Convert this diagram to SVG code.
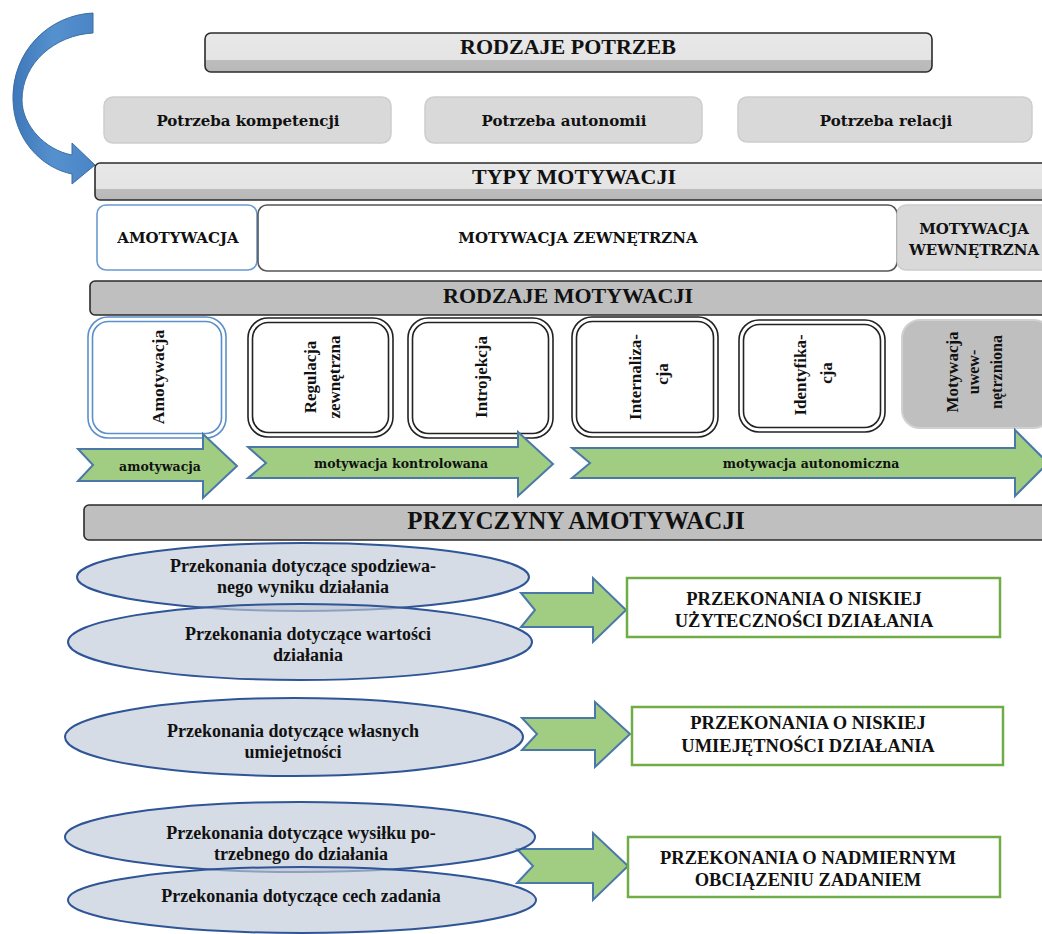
<svg xmlns="http://www.w3.org/2000/svg" width="1042" height="934" viewBox="0 0 1042 934">
<defs>
<linearGradient id="twoTone" x1="0" y1="0" x2="0" y2="1">
<stop offset="0" stop-color="#e8e8e8"/><stop offset="0.7" stop-color="#e4e4e4"/><stop offset="0.7" stop-color="#bdbdbd"/><stop offset="1" stop-color="#b8b8b8"/>
</linearGradient>
<linearGradient id="curveGrad" x1="0" y1="0" x2="1" y2="0">
<stop offset="0" stop-color="#3f78b8"/><stop offset="0.5" stop-color="#5590cf"/><stop offset="1" stop-color="#4a84c4"/>
</linearGradient>
</defs>
<style>
.bar{stroke:#2b2b2b;stroke-width:1.6}
.barTitle{font-family:"Liberation Serif","Times New Roman",serif;font-weight:bold;font-size:22px;fill:#111;text-anchor:middle}
.bigTitle{font-size:25px}
.need{fill:#d9d9d9;stroke:#cdcdcd;stroke-width:1.5}
.cam{font-family:"DejaVu Serif","Liberation Serif",serif;font-weight:bold;fill:#111;text-anchor:middle}
.tim{font-family:"Liberation Serif","Times New Roman",serif;font-weight:bold;fill:#111;text-anchor:middle}
.dbl{fill:#fff;stroke:#222;stroke-width:1.6}
.dblBlue{fill:#fff;stroke:#5b8fc7;stroke-width:1.6}
.garrow{fill:#a0cd82;stroke:#4a78a8;stroke-width:2;stroke-linejoin:miter}
.ell{fill:#c0c9d7;fill-opacity:0.65;stroke:#2f5597;stroke-width:2}
.gbox{fill:#fff;stroke:#70ad47;stroke-width:2.5}
</style>

<g id="connectors">
<path id="curved-arrow" d="M93,13 C50,15 12,50 13,100 C14,140 42,168 72,174 L72,184 L95,165 L72,143 L72,155 C45,150 22,125 22,100 C22,63 55,35 93,33 Z" fill="url(#curveGrad)" stroke="#3a6ea5" stroke-width="1"/>
<polygon points="521,593 593,593 593,578 626,610 593,642 593,627 521,627 535,610" class="garrow"/>
<polygon points="522,718 595,718 595,702 630,734 595,767 595,750 522,750 537,734" class="garrow"/>
<polygon points="517,849 593,849 593,833 628,866 593,900 593,883 517,883 533,866" class="garrow"/>
</g>

<g id="rodzaje-potrzeb">
<rect x="205" y="33" width="727" height="39" rx="6" class="bar" fill="url(#twoTone)"/>
<text x="568" y="54" class="barTitle">RODZAJE POTRZEB</text>
</g>

<g id="potrzeba-kompetencji">
<rect x="104" y="97" width="287" height="46" rx="9" class="need"/>
<text x="248" y="126" class="cam" font-size="15">Potrzeba kompetencji</text>
</g>
<g id="potrzeba-autonomii">
<rect x="425" y="97" width="277" height="46" rx="9" class="need"/>
<text x="564" y="126" class="cam" font-size="15">Potrzeba autonomii</text>
</g>
<g id="potrzeba-relacji">
<rect x="738" y="97" width="294" height="45" rx="9" class="need"/>
<text x="886" y="126" class="cam" font-size="15">Potrzeba relacji</text>
</g>

<g id="typy-motywacji">
<rect x="95" y="163" width="965" height="37" rx="5" class="bar" fill="url(#twoTone)"/>
<text x="574" y="184" class="barTitle">TYPY MOTYWACJI</text>
</g>

<g id="typ-amotywacja">
<rect x="97" y="205" width="160" height="65" rx="9" fill="#fff" stroke="#6a9bd0" stroke-width="1.6"/>
<text x="178" y="243" class="cam" font-size="15">AMOTYWACJA</text>
</g>
<g id="typ-zewnetrzna">
<rect x="258" y="205" width="639" height="66" rx="9" fill="#fff" stroke="#555" stroke-width="1.6"/>
<text x="578" y="243" class="cam" font-size="15">MOTYWACJA ZEWNĘTRZNA</text>
</g>
<g id="typ-wewnetrzna">
<rect x="897" y="205" width="160" height="65" rx="9" fill="#d9d9d9" stroke="#cccccc" stroke-width="1.5"/>
<text x="974" y="234" class="cam" font-size="15">MOTYWACJA</text>
<text x="974" y="255" class="cam" font-size="15">WEWNĘTRZNA</text>
</g>

<g id="rodzaje-motywacji">
<rect x="90" y="281" width="970" height="34" rx="5" class="bar" fill="#bfbfbf"/>
<text x="568" y="303" class="barTitle">RODZAJE MOTYWACJI</text>
</g>

<g id="box-amotywacja">
<rect x="88" y="317" width="138" height="121" rx="20" class="dblBlue"/>
<rect x="92.5" y="321.5" width="129" height="112" rx="16" class="dblBlue"/>
<text transform="translate(158,377) rotate(-90)" y="6" class="tim" font-size="17.5">Amotywacja</text>
</g>
<g id="box-regulacja">
<rect x="248" y="318" width="145" height="119" rx="20" class="dbl"/>
<rect x="252.5" y="322.5" width="136" height="110" rx="16" class="dbl"/>
<text transform="translate(310,377) rotate(-90)" y="6" class="tim" font-size="17">Regulacja</text>
<text transform="translate(334,377) rotate(-90)" y="6" class="tim" font-size="17">zewnętrzna</text>
</g>
<g id="box-introjekcja">
<rect x="408" y="318" width="145" height="120" rx="20" class="dbl"/>
<rect x="412.5" y="322.5" width="136" height="111" rx="16" class="dbl"/>
<text transform="translate(481,377) rotate(-90)" y="6" class="tim" font-size="17">Introjekcja</text>
</g>
<g id="box-internalizacja">
<rect x="572" y="317" width="146" height="120" rx="20" class="dbl"/>
<rect x="576.5" y="321.5" width="137" height="111" rx="16" class="dbl"/>
<text transform="translate(635,377) rotate(-90)" y="6" class="tim" font-size="17">Internaliza-</text>
<text transform="translate(662,374) rotate(-90)" y="6" class="tim" font-size="17">cja</text>
</g>
<g id="box-identyfikacja">
<rect x="739" y="320" width="146" height="112" rx="20" class="dbl"/>
<rect x="743.5" y="324.5" width="137" height="103" rx="16" class="dbl"/>
<text transform="translate(800,375) rotate(-90)" y="6" class="tim" font-size="17">Identyfika-</text>
<text transform="translate(826,373) rotate(-90)" y="6" class="tim" font-size="17">cja</text>
</g>
<g id="box-uwewnetrzniona">
<rect x="902" y="320" width="150" height="108" rx="18" fill="#bfbfbf" stroke="#d0d0d0" stroke-width="2"/>
<text transform="translate(952,372) rotate(-90)" y="6" class="tim" font-size="17">Motywacja</text>
<text transform="translate(973,372) rotate(-90)" y="6" class="tim" font-size="16">uwew-</text>
<text transform="translate(996,372) rotate(-90)" y="6" class="tim" font-size="16">nętrzniona</text>
</g>

<g id="arrow-amotywacja">
<polygon points="78,449 203,449 203,434 237,466 203,498 203,481 78,481 93,465" class="garrow"/>
<text x="160" y="471" class="cam" font-size="12.5">amotywacja</text>
</g>
<g id="arrow-kontrolowana">
<polygon points="248,447 518,447 518,432 553,464 518,496 518,478 248,478 266,463" class="garrow"/>
<text x="401" y="468" class="cam" font-size="12.5">motywacja kontrolowana</text>
</g>
<g id="arrow-autonomiczna">
<polygon points="572,448 1015,448 1015,430 1048,463 1015,496 1015,478 572,478 590,463" class="garrow"/>
<text x="811" y="468" class="cam" font-size="12.5">motywacja autonomiczna</text>
</g>

<g id="przyczyny-amotywacji">
<rect x="84" y="505" width="976" height="35" rx="5" class="bar" fill="#bfbfbf"/>
<text x="576" y="529" class="barTitle bigTitle">PRZYCZYNY AMOTYWACJI</text>
</g>

<g id="ell-wynik">
<ellipse cx="303" cy="577" rx="226" ry="34" class="ell"/>
<text x="303" y="572" class="tim" font-size="18">Przekonania dotyczące spodziewa-</text>
<text x="303" y="593" class="tim" font-size="18">nego wyniku działania</text>
</g>
<g id="ell-wartosc">
<ellipse cx="300" cy="642" rx="232" ry="38" class="ell"/>
<text x="308" y="640" class="tim" font-size="18">Przekonania dotyczące wartości</text>
<text x="308" y="661" class="tim" font-size="18">działania</text>
</g>
<g id="ell-umiejetnosci">
<ellipse cx="294" cy="737" rx="229" ry="39" class="ell"/>
<text x="293" y="737" class="tim" font-size="18">Przekonania dotyczące własnych</text>
<text x="293" y="758" class="tim" font-size="18">umiejetności</text>
</g>
<g id="ell-wysilek">
<ellipse cx="300" cy="837" rx="235" ry="35" class="ell"/>
<text x="301" y="839" class="tim" font-size="18">Przekonania dotyczące wysiłku po-</text>
<text x="301" y="860" class="tim" font-size="18">trzebnego do działania</text>
</g>
<g id="ell-cechy">
<ellipse cx="302" cy="900" rx="234" ry="33" class="ell"/>
<text x="301" y="902" class="tim" font-size="18">Przekonania dotyczące cech zadania</text>
</g>

<g id="box-uzytecznosc">
<rect x="627" y="578" width="373" height="59" class="gbox"/>
<text x="804" y="605" class="tim" font-size="18.5">PRZEKONANIA O NISKIEJ</text>
<text x="804" y="627" class="tim" font-size="18.5">UŻYTECZNOŚCI DZIAŁANIA</text>
</g>
<g id="box-umiejetnosc">
<rect x="632" y="707" width="371" height="58" class="gbox"/>
<text x="808" y="729" class="tim" font-size="18.5">PRZEKONANIA O NISKIEJ</text>
<text x="808" y="752" class="tim" font-size="18.5">UMIEJĘTNOŚCI DZIAŁANIA</text>
</g>
<g id="box-obciazenie">
<rect x="628" y="837" width="372" height="60" class="gbox"/>
<text x="808" y="864" class="tim" font-size="18.5">PRZEKONANIA O NADMIERNYM</text>
<text x="808" y="886" class="tim" font-size="18.5">OBCIĄZENIU ZADANIEM</text>
</g>
</svg>
